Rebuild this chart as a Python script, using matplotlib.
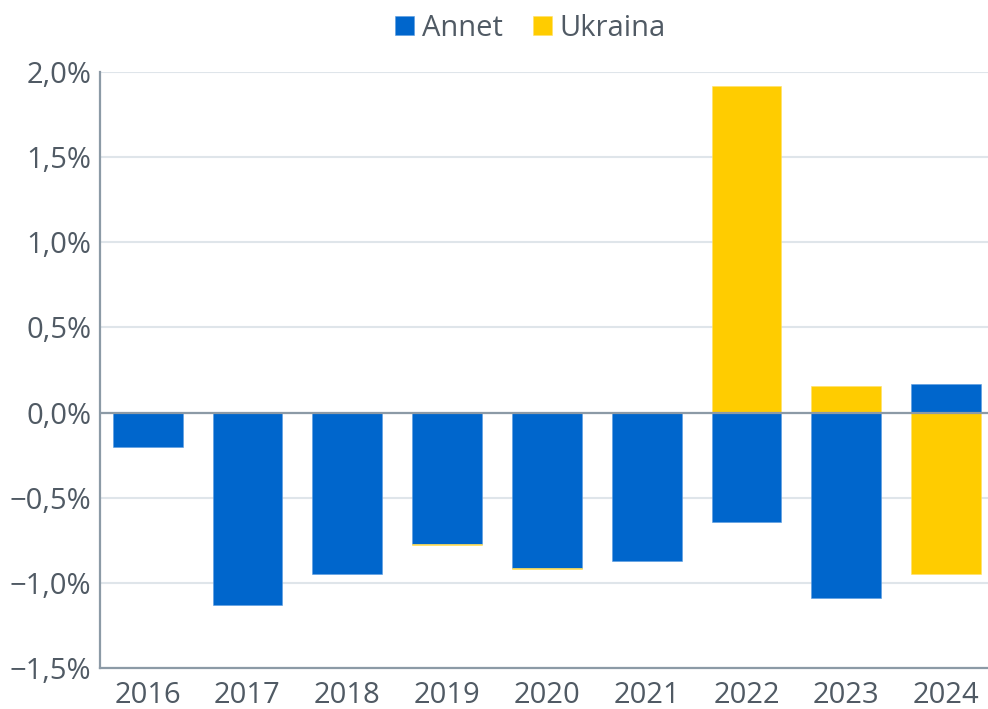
import matplotlib
matplotlib.use("Agg")
import matplotlib.pyplot as plt
import numpy as np
from matplotlib.ticker import FuncFormatter

years = ["2016", "2017", "2018", "2019", "2020", "2021", "2022", "2023", "2024"]
annet = [-0.20, -1.13, -0.95, -0.77, -0.91, -0.87, -0.64, -1.09, 0.17]
ukraina = [0.0, 0.0, 0.0, -0.01, -0.01, 0.0, 1.92, 0.155, -0.95]
yticks = [-1.5, -1.0, -0.5, 0.0, 0.5, 1.0, 1.5, 2.0]

BLUE = "#0066CC"
YELLOW = "#FFCC00"
TXT = "#505a64"

plt.rcParams['font.family'] = ['Open Sans', 'DejaVu Sans']

fig = plt.figure(figsize=(9.88, 7.09), dpi=100)
ax = fig.add_axes([0.101, 0.0578, 0.899, 0.8406])

x = np.arange(len(years))
annet = np.array(annet)
ukraina = np.array(ukraina)
# relative stacking: positives stack up, negatives stack down
uk_base = np.where(np.sign(ukraina) == np.sign(annet), annet, 0.0)
ax.bar(x, annet, width=0.7, color=BLUE, label="Annet", zorder=3,
       edgecolor="#5a9be0", linewidth=0.4)
ax.bar(x, ukraina, bottom=uk_base, width=0.7, color=YELLOW, label="Ukraina", zorder=3,
       edgecolor="#ffe066", linewidth=0.4)

ax.set_xlim(-0.48, 8.42)
ax.set_ylim(-1.5, 2.0)
ax.set_yticks(yticks)
ax.yaxis.set_major_formatter(FuncFormatter(
    lambda v, p: ("\u2212" if v < 0 else "") + f"{abs(v):.1f}".replace(".", ",") + "%"))
ax.set_xticks(x)
ax.set_xticklabels(years)
ax.tick_params(axis="both", length=0, labelsize=21, colors=TXT)
ax.tick_params(axis="x", pad=9)
ax.tick_params(axis="y", pad=6)

ax.grid(axis="y", color="#dfe5ea", linewidth=1.5, zorder=0)
ax.axhline(0, color="#8c9aa6", linewidth=1.6, zorder=4)
for s in ["top", "right"]:
    ax.spines[s].set_visible(False)
ax.spines["left"].set_color("#8c9aa6")
ax.spines["left"].set_linewidth(1.6)
ax.spines["bottom"].set_color("#8c9aa6")
ax.spines["bottom"].set_linewidth(1.6)

leg = fig.legend(loc="center", bbox_to_anchor=(0.537, 0.96), ncol=2, frameon=False,
                 fontsize=21, handlelength=0.65, handleheight=0.65, handletextpad=0.25,
                 columnspacing=1.05, labelcolor=TXT)

fig.savefig("out.png", dpi=100)
